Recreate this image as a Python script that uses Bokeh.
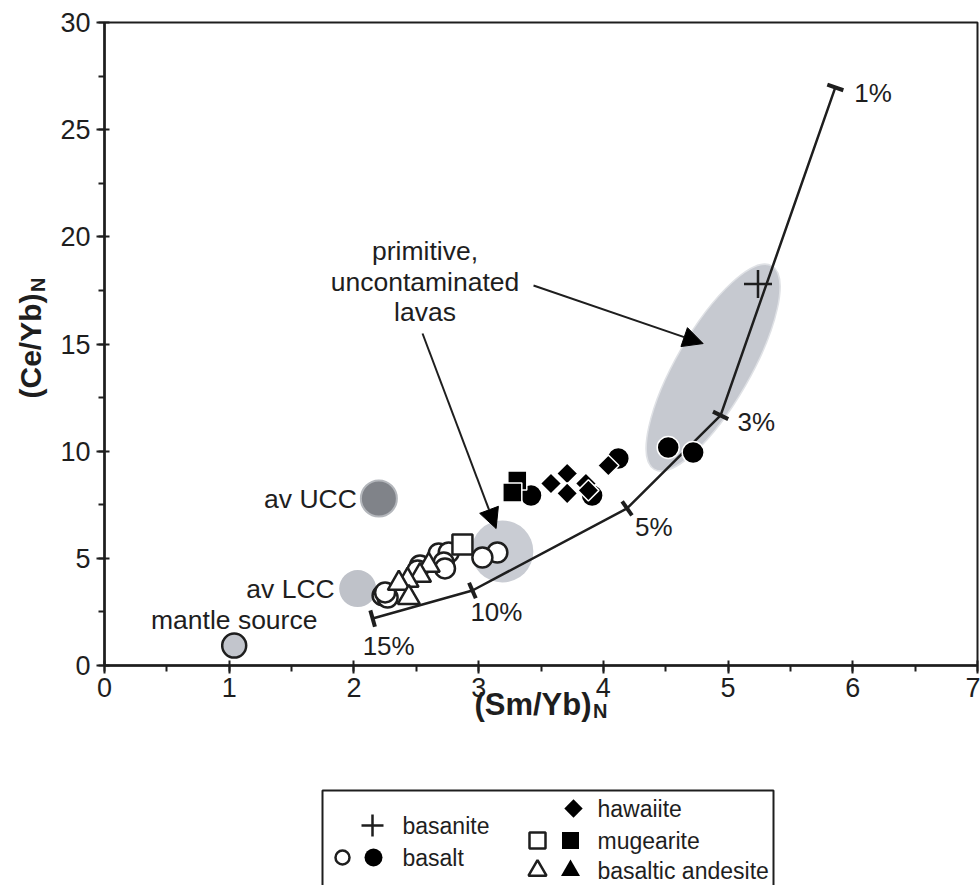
import math

from bokeh.core.properties import value
from bokeh.embed import file_html
from bokeh.layouts import column
from bokeh.models import Arrow, Label, NormalHead, Range1d, SingleIntervalTicker
from bokeh.plotting import figure
from bokeh.resources import INLINE

FONT = "Liberation Sans"
INK = "#1e1e1e"

# ---- sample data: (Sm/Yb)N, (Ce/Yb)N ----
basanite_x = [5.24]
basanite_y = [17.8]

basalt_open_x = [3.15, 3.03, 2.68, 2.76, 2.72, 2.73, 2.53, 2.51, 2.23, 2.27, 2.25]
basalt_open_y = [5.27, 5.04, 5.23, 5.27, 4.81, 4.53, 4.67, 4.43, 3.27, 3.17, 3.41]
basalt_fill_x = [3.42, 3.91, 4.12, 4.52, 4.72]
basalt_fill_y = [7.93, 7.93, 9.66, 10.17, 9.94]

hawaiite_x = [3.58, 3.71, 3.71, 3.86, 3.88, 4.04]
hawaiite_y = [8.49, 8.96, 8.03, 8.49, 8.17, 9.33]

mugearite_open_x = [2.87]
mugearite_open_y = [5.65]
mugearite_fill_x = [3.31, 3.27]
mugearite_fill_y = [8.63, 8.07]

bas_andesite_open_x = [2.60, 2.53, 2.43, 2.36, 2.44]
bas_andesite_open_y = [4.67, 4.20, 3.97, 3.83, 3.17]

# ---- reference compositions ----
ref_names = ["mantle source", "av LCC", "av UCC"]
ref_x = [1.04, 2.03, 2.20]
ref_y = [0.93, 3.59, 7.79]

# ---- partial melting model ----
melt_pct = ["15%", "10%", "5%", "3%", "1%"]
melt_x = [2.15, 2.95, 4.19, 4.94, 5.86]
melt_y = [2.19, 3.50, 7.33, 11.67, 26.97]

# ---- fields of primitive, uncontaminated lavas ----
field_circle_x, field_circle_y = [3.19], [5.32]
field_ellipse_x, field_ellipse_y = [4.88], [13.9]

X_RANGE = (0, 7)
Y_RANGE = (0, 30)

W, H = 980, 760
BL, BR, BT, BB = 104, 3, 22, 95

p = figure(width=W, height=H, x_range=Range1d(*X_RANGE), y_range=Range1d(*Y_RANGE),
           output_backend="svg", toolbar_location=None,
           min_border_left=BL, min_border_right=BR, min_border_top=BT, min_border_bottom=BB)
p.grid.visible = False
p.outline_line_color = INK
p.outline_line_width = 2
p.background_fill_color = "white"
p.border_fill_color = "white"

# pixels per data unit, used to place screen-oriented details
sx = (W - BL - BR) / (X_RANGE[1] - X_RANGE[0])
sy = (H - BT - BB) / (Y_RANGE[1] - Y_RANGE[0])

for ax, interval in ((p.xaxis, 1), (p.yaxis, 5)):
    ax.ticker = SingleIntervalTicker(interval=interval, num_minor_ticks=2)
    ax.axis_line_width = 2.5
    ax.axis_line_color = INK
    ax.major_tick_line_width = 2
    ax.major_tick_line_color = INK
    ax.minor_tick_line_width = 2
    ax.minor_tick_line_color = INK
    ax.major_tick_in = 5
    ax.major_tick_out = 8
    ax.minor_tick_in = 0
    ax.minor_tick_out = 6
    ax.major_label_text_font = FONT
    ax.major_label_text_font_size = "27px"
    ax.major_label_text_color = INK
p.xaxis.major_label_standoff = 4
p.yaxis.major_label_standoff = 6

# shaded fields
p.ellipse(field_ellipse_x, field_ellipse_y, width=74, height=235, angle=math.radians(-30),
          width_units="screen", height_units="screen",
          fill_color="#c6c9d0", line_color="#dfe1e5", line_width=1.5)
p.scatter(field_circle_x, field_circle_y, size=62, marker="circle",
          fill_color="#c9ccd3", line_color=None)

# reference compositions
p.scatter(ref_x[1:2], ref_y[1:2], size=37, marker="circle", fill_color="#bfc2c9", line_color=None)
p.scatter(ref_x[2:3], ref_y[2:3], size=36, marker="circle", fill_color="#808389",
          line_color="#b4b7bc", line_width=2)
p.scatter(ref_x[0:1], ref_y[0:1], size=24, marker="circle", fill_color="#c2c5cc",
          line_color=INK, line_width=2.5)

# melting curve with perpendicular ticks
p.line(melt_x, melt_y, line_color=INK, line_width=2.5)
tick_angles = []
n = len(melt_x)
for i in range(n):
    a = max(i - 1, 0)
    b = min(i + 1, n - 1)
    theta = math.atan2((melt_y[b] - melt_y[a]) * sy, (melt_x[b] - melt_x[a]) * sx)
    tick_angles.append(theta + math.pi / 2)
p.scatter(melt_x, melt_y, marker="dash", size=17, angle=tick_angles,
          line_color=INK, line_width=4)

# label offsets (screen px) for the melt percentages
pct_dx = [-10, -2, 8, 17, 19]
pct_dy = [-27, -22, -19, -7, -6]
p.text([x + dx / sx for x, dx in zip(melt_x, pct_dx)],
       [y + dy / sy for y, dy in zip(melt_y, pct_dy)],
       text=melt_pct, text_font=value(FONT), text_font_size="26px",
       text_color=INK, text_baseline="middle", text_align="left")

# samples
p.scatter(basalt_fill_x, basalt_fill_y, size=22, marker="circle",
          fill_color="black", line_color="white", line_width=1.5)
p.scatter(basalt_open_x, basalt_open_y, size=20, marker="circle",
          fill_color="white", line_color=INK, line_width=2.5)
p.scatter(bas_andesite_open_x, bas_andesite_open_y, size=22, marker="triangle",
          fill_color="white", line_color=INK, line_width=2.5)
p.scatter(mugearite_open_x, mugearite_open_y, size=20, marker="square",
          fill_color="white", line_color=INK, line_width=2.5)
p.scatter(mugearite_fill_x, mugearite_fill_y, size=19, marker="square",
          fill_color="black", line_color="white", line_width=1.5)
p.scatter(hawaiite_x, hawaiite_y, size=15, marker="square", angle=math.pi / 4,
          fill_color="black", line_color="white", line_width=1.5)
p.scatter(basanite_x, basanite_y, size=28, marker="cross", line_color=INK, line_width=2.5)

# reference labels
LBL = "26.5px"
p.text([ref_x[0]], [ref_y[0] + 26 / sy], text=[ref_names[0]], text_font=value(FONT),
       text_font_size=LBL, text_color=INK, text_align="center", text_baseline="middle")
p.text([ref_x[1] - 23 / sx], [ref_y[1]], text=[ref_names[1]], text_font=value(FONT),
       text_font_size=LBL, text_color=INK, text_align="right", text_baseline="middle")
p.text([ref_x[2] - 22 / sx], [ref_y[2]], text=[ref_names[2]], text_font=value(FONT),
       text_font_size=LBL, text_color=INK, text_align="right", text_baseline="middle")

# annotation
note_lines = ["primitive,", "uncontaminated", "lavas"]
note_y = [19.36, 17.87, 16.47]
p.text([2.57] * 3, note_y, text=note_lines, text_font=value(FONT), text_font_size=LBL,
       text_color=INK, text_align="center", text_baseline="middle")
for xs, ys, xe, ye in ((3.44, 17.73, 4.80, 15.02), (2.55, 15.49, 3.14, 6.39)):
    p.add_layout(Arrow(end=NormalHead(size=20, fill_color="black", line_color="black"),
                       x_start=xs, y_start=ys, x_end=xe, y_end=ye,
                       line_color=INK, line_width=2))

# axis titles with subscripts (kept in the side panels so they are not clipped)
TITLE = "31px"
SUB = "20px"
x_title_cx = 3.5 - 8 / sx
p.add_layout(Label(x=x_title_cx, y=-39 / sy, text="(Sm/Yb)", text_font=FONT,
                   text_font_size=TITLE, text_font_style="bold", text_color=INK,
                   text_align="center", text_baseline="middle"), "below")
p.add_layout(Label(x=x_title_cx + 60 / sx, y=-45 / sy, text="N", text_font=FONT,
                   text_font_size=SUB, text_font_style="bold", text_color=INK,
                   text_align="left", text_baseline="middle"), "below")
y_title_cy = 15 - 2 / sy
p.add_layout(Label(x=-74 / sx, y=y_title_cy, text="(Ce/Yb)", text_font=FONT,
                   text_font_size="30px", text_font_style="bold", text_color=INK,
                   text_align="center", text_baseline="middle", angle=math.pi / 2), "left")
p.add_layout(Label(x=-67 / sx, y=y_title_cy + 54 / sy, text="N", text_font=FONT,
                   text_font_size=SUB, text_font_style="bold", text_color=INK,
                   text_align="left", text_baseline="middle", angle=math.pi / 2), "left")

# ---- legend panel (its frame lines up with the plot frame above) ----
LH = 125
lg = figure(width=W, height=LH, x_range=Range1d(BL, W - BR), y_range=Range1d(H + LH, H),
            output_backend="svg", toolbar_location=None, min_border=0,
            x_axis_type=None, y_axis_type=None)
lg.grid.visible = False
lg.outline_line_color = None
lg.quad(left=[322], right=[773], top=[790], bottom=[H + LH + 20],
        fill_color=None, line_color=INK, line_width=2)

leg_labels = ["basanite", "basalt", "hawaiite", "mugearite", "basaltic andesite"]
leg_text_x = [402, 402, 597, 597, 597]
leg_text_y = [825, 857, 808, 840, 870]
lg.text(leg_text_x, leg_text_y, text=leg_labels, text_font=value(FONT),
        text_font_size="23px", text_color=INK, text_baseline="middle")
lg.scatter([372], [825], marker="cross", size=22, line_color=INK, line_width=2.5)
lg.scatter([342], [857], marker="circle", size=14, fill_color="white",
           line_color=INK, line_width=2.5)
lg.scatter([373], [857], marker="circle", size=18, fill_color="black", line_color=None)
lg.scatter([573], [808], marker="square", size=13, angle=math.pi / 4,
           fill_color="black", line_color=None)
lg.scatter([537], [840], marker="square", size=16, fill_color="white",
           line_color=INK, line_width=2.5)
lg.scatter([570], [840], marker="square", size=17, fill_color="black", line_color=None)
lg.scatter([537], [870], marker="triangle", size=18, fill_color="white",
           line_color=INK, line_width=2.5)
lg.scatter([570], [870], marker="triangle", size=19, fill_color="black", line_color=None)

layout = column(p, lg, spacing=0)
open("out.html", "w").write(file_html(layout, INLINE))
